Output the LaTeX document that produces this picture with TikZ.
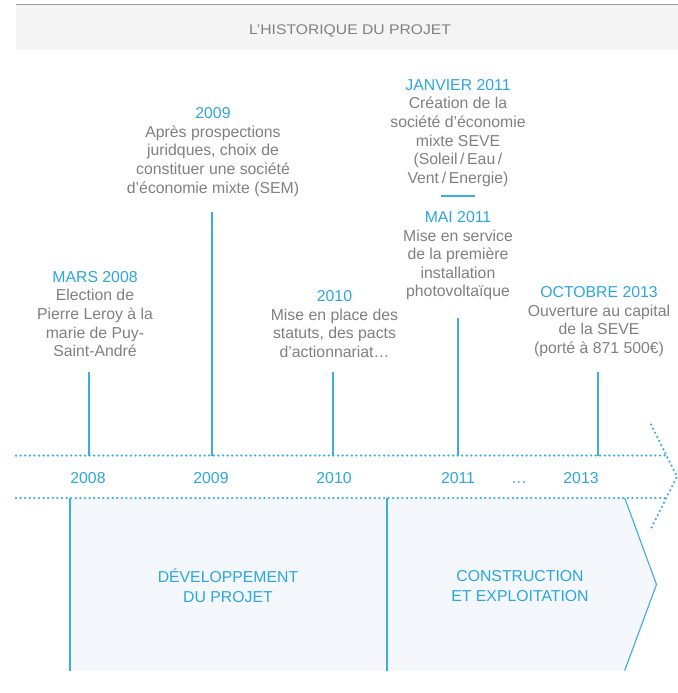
\documentclass[tikz,border=0pt]{standalone}
\usepackage{fontspec}
\setmainfont{Liberation Sans}
\newfontfamily\headfont[FakeStretch=1.12]{Liberation Sans}
\definecolor{tlblue}{HTML}{2BA6DE}
\definecolor{tlline}{HTML}{3AAEE0}
\definecolor{tlgray}{HTML}{808080}
\definecolor{headbg}{HTML}{F4F4F4}
\definecolor{headrule}{HTML}{9A9A9A}
\definecolor{phasebg}{HTML}{F4F8FD}
\newcommand{\firstline}{\rule{0pt}{13bp}}
\begin{document}
\begin{tikzpicture}[x=1bp,y=-1bp,
  event/.style={anchor=north, inner sep=0pt, align=center, text=tlgray,
    font=\fontsize{15.8bp}{18.6bp}\selectfont},
  yearlabel/.style={anchor=base, inner sep=0pt, text=tlblue,
    font=\fontsize{15.8bp}{18.6bp}\selectfont},
  phaselabel/.style={anchor=north, inner sep=0pt, align=center, text=tlblue,
    font=\fontsize{15.8bp}{20bp}\selectfont},
  tick/.style={draw=tlline, line width=1.1bp},
  dotline/.style={draw=tlline, line width=2.5bp, line cap=round,
    dash pattern=on 0bp off 4.6bp},
  phaseedge/.style={draw=tlline, line width=1.1bp}]
\useasboundingbox (0,0) rectangle (678,693);

% header band
\fill[headbg] (15.5,5) rectangle (678,50);
\draw[headrule, line width=1.4bp] (15.5,4.5) -- (678,4.5);
\node[anchor=base, inner sep=0pt, text=tlgray,
  font=\headfont\fontsize{14bp}{16bp}\selectfont] (head) at (350,35)
  {L’HISTORIQUE DU PROJET};

% phase band below the axis
\fill[phasebg] (70,498) -- (624.7,498) -- (656.5,584.5) -- (624.7,670.5)
  -- (70,670.5) -- cycle;
\coordinate (pa1) at (70,498);     \coordinate (pa2) at (70,670.5);
\coordinate (pb1) at (387,498);    \coordinate (pb2) at (387,670.5);
\coordinate (pc1) at (624.7,498);  \coordinate (pc2) at (656.5,584.5);
\coordinate (pc3) at (624.7,670.5);
\draw[phaseedge] (pa1) -- (pa2);
\draw[phaseedge] (pb1) -- (pb2);
\draw[phaseedge, line join=miter] (pc1) -- (pc2) -- (pc3);
\node[phaselabel] (ph1) at (228,568.7) {\firstline DÉVELOPPEMENT\\DU PROJET};
\node[phaselabel] (ph2) at (520,568.7) {\firstline CONSTRUCTION\\ET EXPLOITATION};

% dotted axis with open arrow head
\coordinate (axL1) at (16,455.5);   \coordinate (axR1) at (666.5,455.5);
\coordinate (axL2) at (16,498);     \coordinate (axR2) at (666.2,498);
\coordinate (hd1) at (651,424.5);   \coordinate (hd2) at (677,476.5);
\coordinate (hd3) at (651,528.5);
\draw[dotline] (axL1) -- (axR1);
\draw[dotline] (axL2) -- (axR2);
\draw[dotline] (hd1) -- (hd2) -- (hd3);

% years on the axis
\node[yearlabel] (y08) at (88,483.5) {2008};
\node[yearlabel] (y09) at (211,483.5) {2009};
\node[yearlabel] (y10) at (334,483.5) {2010};
\node[yearlabel] (y11) at (458,483.5) {2011};
\node[yearlabel] (ydots) at (519,483.5) {…};
\node[yearlabel] (y13) at (581,483.5) {2013};

% events
\node[event] (e08) at (95,269) {\firstline\textcolor{tlblue}{MARS 2008}\\
  Election de\\Pierre Leroy à la\\marie de Puy-\\Saint-André};
\node[event] (e09) at (213,105.5) {\firstline\textcolor{tlblue}{2009}\\
  Après prospections\\juridques, choix de\\constituer une société\\
  d’économie mixte (SEM)};
\node[event] (e10) at (334.5,288.5) {\firstline\textcolor{tlblue}{2010}\\
  Mise en place des\\statuts, des pacts\\d’actionnariat…};
\node[event] (e11a) at (458,77) {\firstline\textcolor{tlblue}{JANVIER 2011}\\
  Création de la\\société d’économie\\mixte SEVE\\
  (Soleil\,/\,Eau\,/\\Vent\,/\,Energie)};
\coordinate (sepL) at (441,196);  \coordinate (sepR) at (475,196);
\draw[tick] (sepL) -- (sepR);
\node[event] (e11b) at (458,209.3) {\firstline\textcolor{tlblue}{MAI 2011}\\
  Mise en service\\de la première\\installation\\photovoltaïque};
\node[event] (e13) at (599,284.5) {\firstline\textcolor{tlblue}{OCTOBRE 2013}\\
  Ouverture au capital\\de la SEVE\\(porté à 871 500€)};

% ticks from events down to the axis
\coordinate (t08) at (89,372);   \coordinate (a08) at (89,455.5);
\coordinate (t09) at (212,212);  \coordinate (a09) at (212,455.5);
\coordinate (t10) at (333,372);  \coordinate (a10) at (333,455.5);
\coordinate (t11) at (458,318);  \coordinate (a11) at (458,455.5);
\coordinate (t13) at (598,372);  \coordinate (a13) at (598,455.5);
\draw[tick] (t08) -- (a08);
\draw[tick] (t09) -- (a09);
\draw[tick] (t10) -- (a10);
\draw[tick] (t11) -- (a11);
\draw[tick] (t13) -- (a13);
\end{tikzpicture}
\end{document}
